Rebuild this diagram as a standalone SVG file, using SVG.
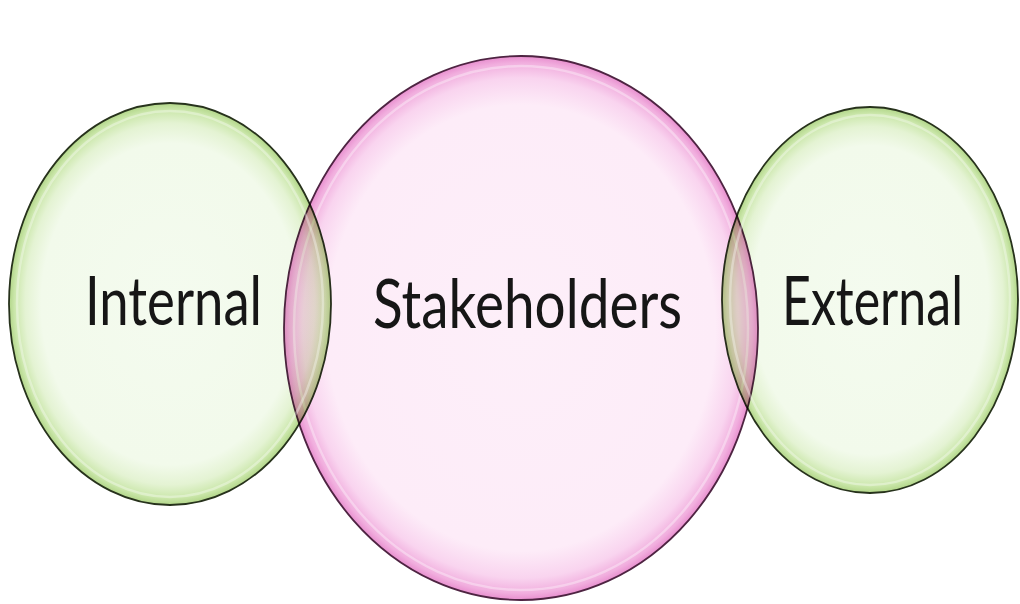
<svg xmlns="http://www.w3.org/2000/svg" width="1020" height="604" viewBox="0 0 1020 604">
  <defs>
    <!-- glassy bubble fills: pale centre, saturated rim -->
    <radialGradient id="gradGreen" cx="0.5" cy="0.5" r="0.5">
      <stop offset="0" stop-color="#f4fbef"/>
      <stop offset="0.8" stop-color="#f2faeb"/>
      <stop offset="0.9" stop-color="#e4f3d3"/>
      <stop offset="0.965" stop-color="#cbe7ab"/>
      <stop offset="1" stop-color="#b2d689"/>
    </radialGradient>
    <radialGradient id="gradPink" cx="0.5" cy="0.5" r="0.5">
      <stop offset="0" stop-color="#fdeff9"/>
      <stop offset="0.82" stop-color="#fdecf8"/>
      <stop offset="0.92" stop-color="#f9d4ef"/>
      <stop offset="0.975" stop-color="#f1aede"/>
      <stop offset="1" stop-color="#e88fcf"/>
    </radialGradient>
    <style>
      .bubble-green { fill: url(#gradGreen); stroke: #27321c; stroke-width: 1.8; mix-blend-mode: multiply; }
      .bubble-pink { fill: url(#gradPink); stroke: #4e2442; stroke-width: 1.8; }
      .shine { fill: none; stroke: #ffffff; stroke-opacity: 0.35; stroke-width: 2.5; }
      .label { font-family: Lato, "Open Sans", "Liberation Sans", sans-serif; font-weight: 400; font-size: 68px; fill: #161616; }
    </style>
  </defs>

  <rect width="1020" height="604" fill="#ffffff"/>

  <g id="stakeholders">
    <ellipse class="bubble-pink" cx="521" cy="328" rx="237" ry="272"/>
    <ellipse class="shine" cx="521" cy="328" rx="227" ry="262"/>
    <text class="label" x="373" y="328" textLength="309" lengthAdjust="spacingAndGlyphs">Stakeholders</text>
  </g>

  <g id="internal">
    <ellipse class="bubble-green" cx="170" cy="304" rx="161" ry="201"/>
    <ellipse class="shine" cx="170" cy="304" rx="153" ry="193"/>
    <text class="label" x="85" y="325" textLength="177" lengthAdjust="spacingAndGlyphs">Internal</text>
  </g>

  <g id="external">
    <ellipse class="bubble-green" cx="870" cy="300" rx="148" ry="193"/>
    <ellipse class="shine" cx="870" cy="300" rx="140" ry="185"/>
    <text class="label" x="782" y="325" textLength="181" lengthAdjust="spacingAndGlyphs">External</text>
  </g>

  <g id="connectors"/>
</svg>
